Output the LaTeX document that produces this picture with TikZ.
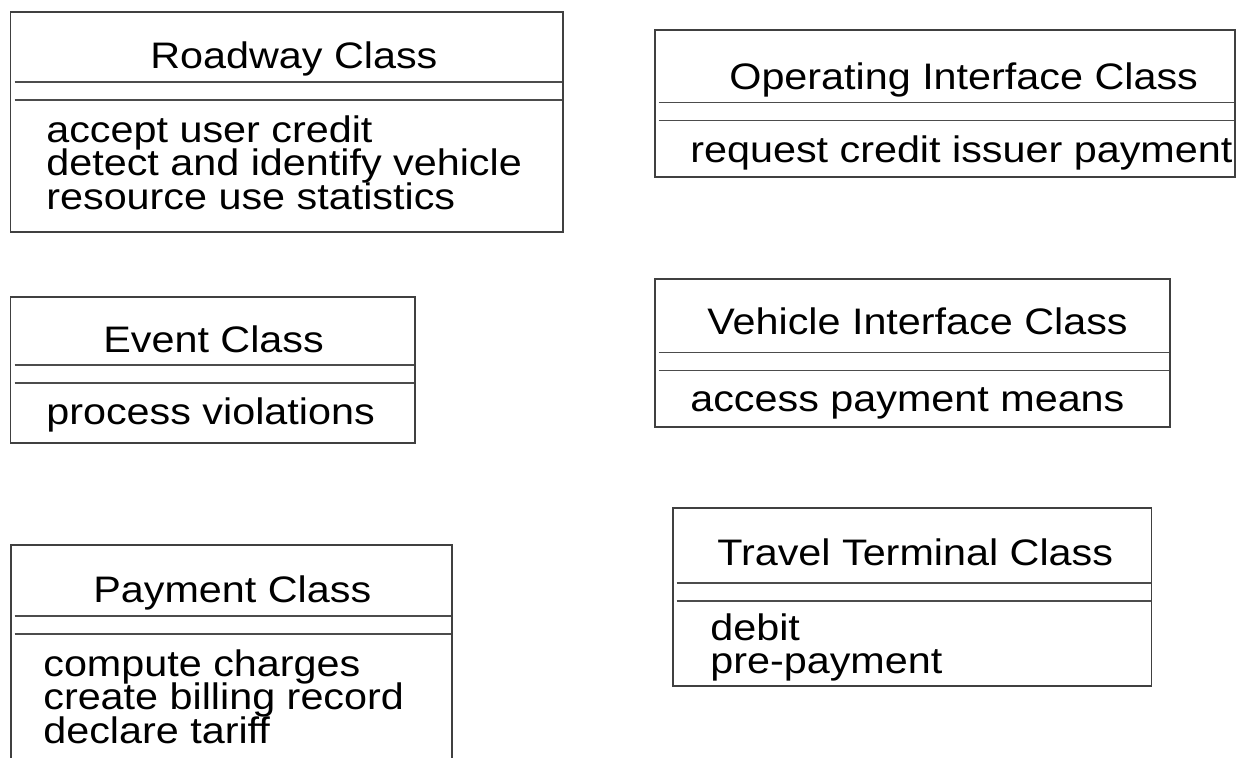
\documentclass[tikz,border=0pt]{standalone}
\usepackage{fontspec}
\setmainfont[FakeStretch=1.12]{Liberation Sans}

\begin{document}
\begin{tikzpicture}[x=0.02cm,y=-0.02cm,
  clsframe/.style={draw=black!75,line width=0.6pt},
  clsrule/.style={draw=black!70,line width=0.6pt},
  clstext/.style={inner sep=0pt,anchor=base west,font=\fontsize{21}{21}\selectfont}]
\useasboundingbox (0,0) rectangle (1249,758);
\draw[clsframe] (10.5,12) rectangle (563,232);
\node[clstext] (roadway) at (150,68) {Roadway Class};
\draw[clsrule] (14.5,82) -- (562,82);
\draw[clsrule] (14.5,100) -- (562,100);
\node[clstext] (roadwayA) at (46,142) {accept user credit};
\node[clstext] (roadwayB) at (46,175.5) {detect and identify vehicle};
\node[clstext] (roadwayC) at (46,209) {resource use statistics};
\draw[clsframe] (655,30) rectangle (1235,177);
\node[clstext] (operating) at (729,89) {Operating Interface Class};
\draw[clsrule] (658.5,102.5) -- (1234,102.5);
\draw[clsrule] (658.5,120.5) -- (1234,120.5);
\node[clstext] (operatingA) at (690,162) {request credit issuer payment};
\draw[clsframe] (10.5,297) rectangle (415,443);
\node[clstext] (event) at (103,352) {Event Class};
\draw[clsrule] (14.5,365) -- (414,365);
\draw[clsrule] (14.5,383) -- (414,383);
\node[clstext] (eventA) at (46,424) {process violations};
\draw[clsframe] (655,279) rectangle (1170,427);
\node[clstext] (vehicle) at (707,334) {Vehicle Interface Class};
\draw[clsrule] (658.5,352.5) -- (1169,352.5);
\draw[clsrule] (658.5,370.5) -- (1169,370.5);
\node[clstext] (vehicleA) at (690,411) {access payment means};
\draw[clsframe] (11,758) -- (11,545) -- (452,545) -- (452,758);
\node[clstext] (payment) at (93,602) {Payment Class};
\draw[clsrule] (14.5,616) -- (451,616);
\draw[clsrule] (14.5,634) -- (451,634);
\node[clstext] (paymentA) at (43,676) {compute charges};
\node[clstext] (paymentB) at (43,709.5) {create billing record};
\node[clstext] (paymentC) at (43,743) {declare tariff};
\draw[clsframe] (673,508) rectangle (1151.5,686);
\node[clstext] (travel) at (717,565) {Travel Terminal Class};
\draw[clsrule] (676.5,583) -- (1150.5,583);
\draw[clsrule] (676.5,601) -- (1150.5,601);
\node[clstext] (travelA) at (710,640) {debit};
\node[clstext] (travelB) at (710,673.5) {pre-payment};
\end{tikzpicture}
\end{document}
